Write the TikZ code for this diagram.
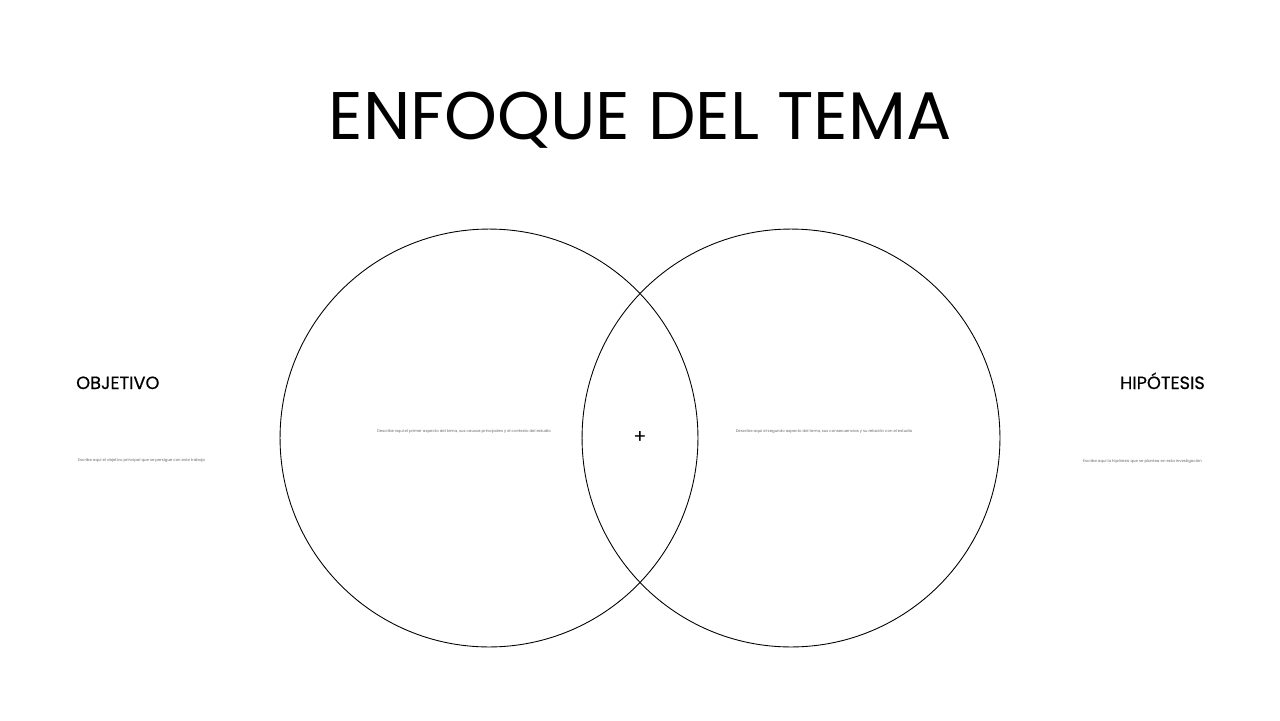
\documentclass[tikz,border=0pt]{standalone}
\usepackage{fontspec}
\setmainfont{Poppins}
\begin{document}
\begin{tikzpicture}[x=0.02cm,y=-0.02cm,
  heading/.style={font=\addfontfeatures{FakeBold=0.6}\fontsize{10.1}{12}\selectfont},
  tinytext/.style={font=\fontsize{2.2}{3}\selectfont, text=black!60}]
\useasboundingbox (0,0) rectangle (1280,720);
\node (title) at (640,120) {\fontsize{38.3}{46}\selectfont ENFOQUE DEL TEMA};
% the two circles
\draw[line width=0.5pt] (489,438) circle (4.18cm);
\draw[line width=0.5pt] (791,438) circle (4.18cm);
\node (plus) at (640,437) {\fontsize{11}{12}\selectfont +};
\node[tinytext] (lefttext) at (464,431) {Describe aquí el primer aspecto del tema, sus causas principales y el contexto del estudio};
\node[tinytext] (righttext) at (824,431) {Describe aquí el segundo aspecto del tema, sus consecuencias y su relación con el estudio};
% side labels
\node[heading, anchor=base west] (objetivo) at (70,389) {OBJETIVO};
\node[heading, anchor=base east] (hipotesis) at (1211,389) {HIPÓTESIS};
\node[tinytext, anchor=west] (objtext) at (72,461) {Escribe aquí el objetivo principal que se persigue con este trabajo};
\node[tinytext, anchor=east] (hiptext) at (1208,461) {Escribe aquí la hipótesis que se plantea en esta investigación};
\end{tikzpicture}
\end{document}
